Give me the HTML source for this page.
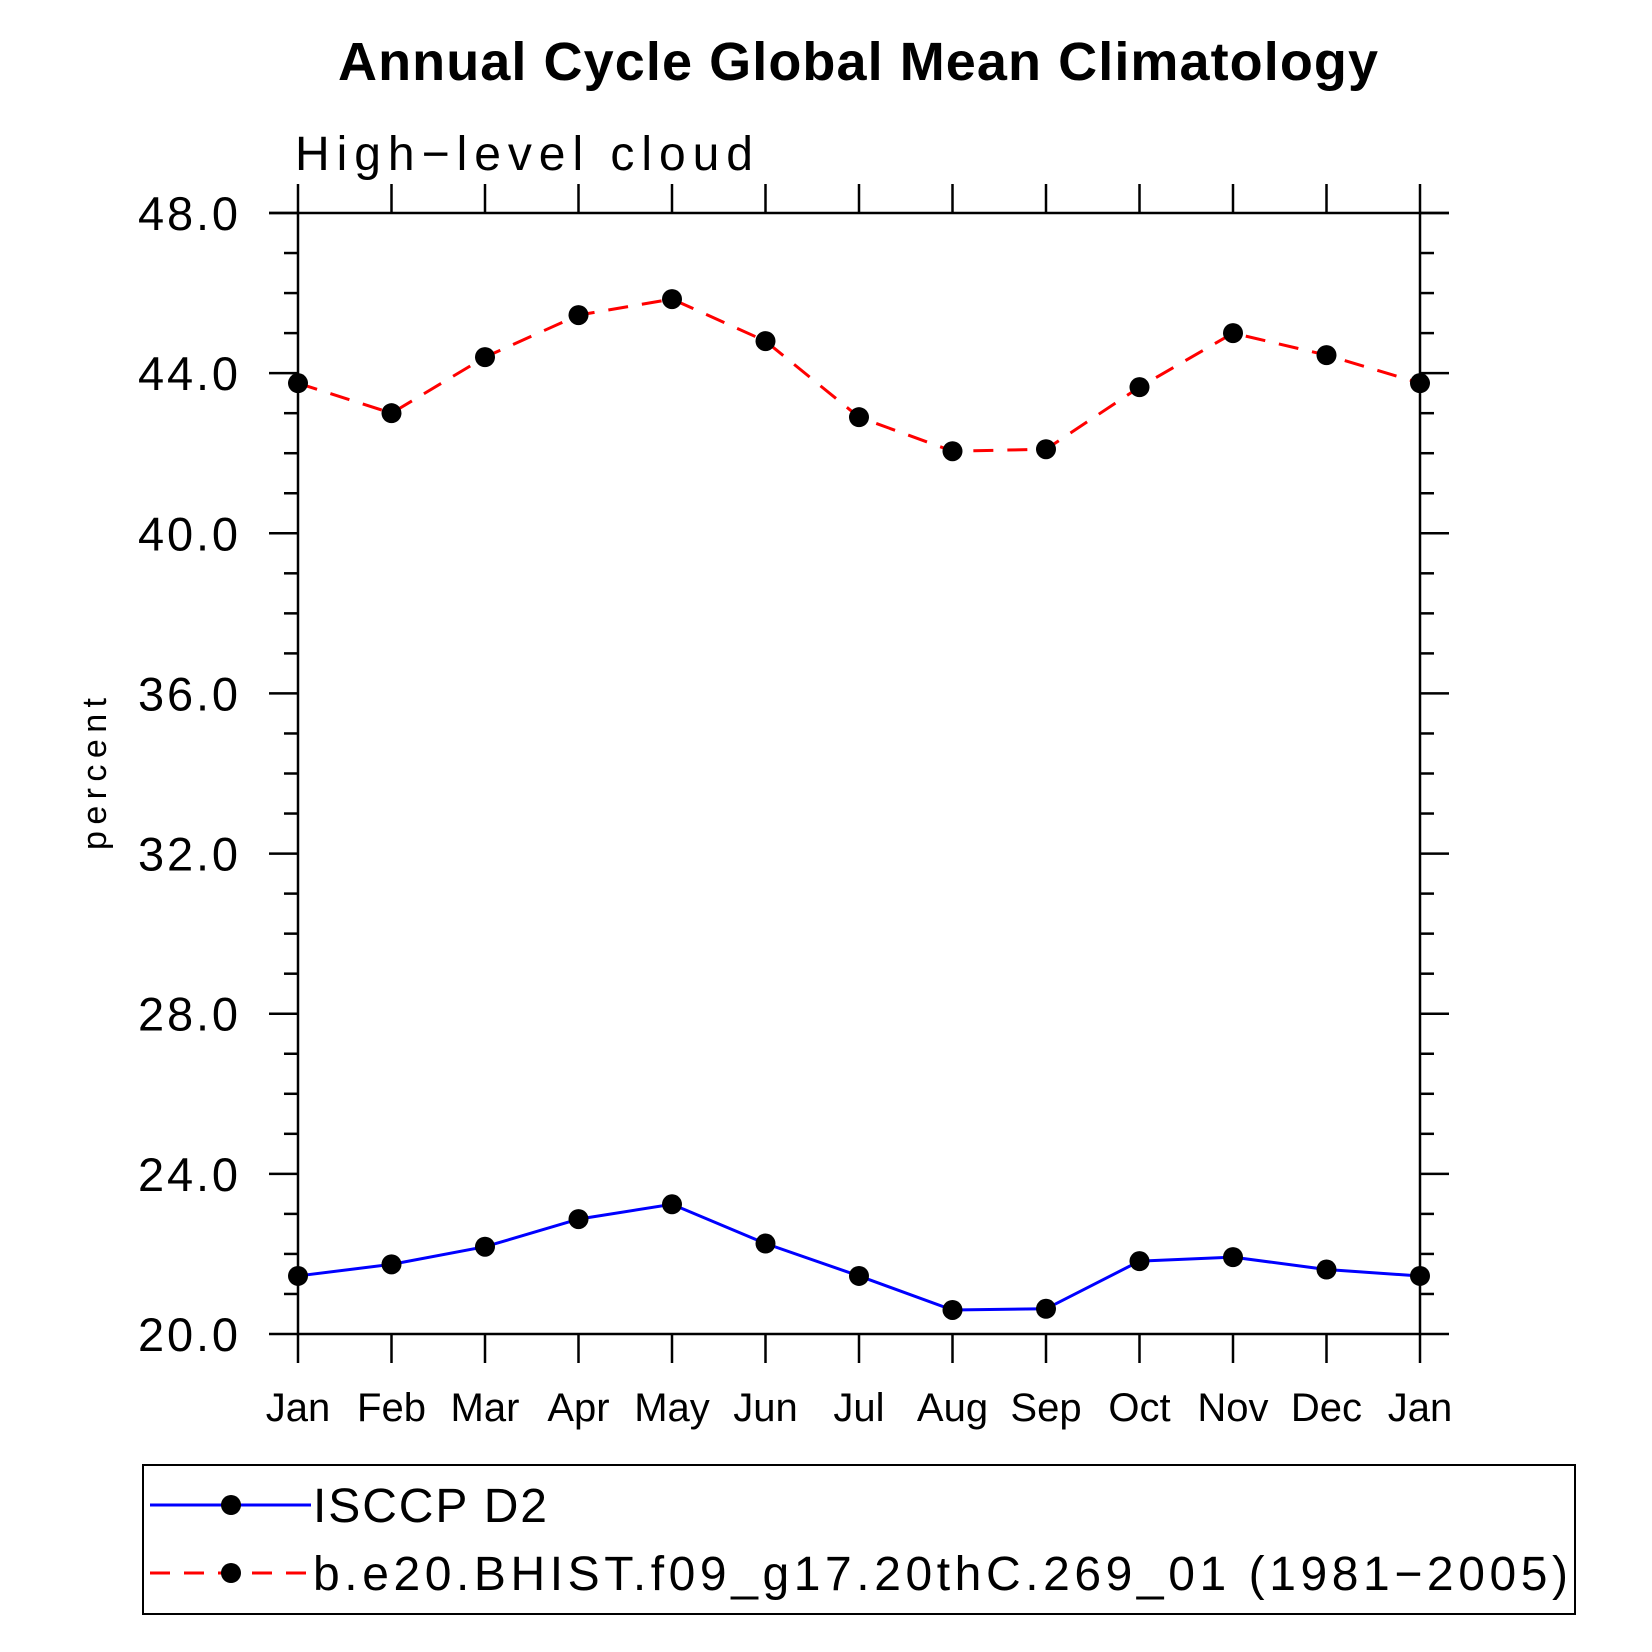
<!DOCTYPE html>
<html><head><meta charset="utf-8"><style>body{margin:0;background:#fff}svg{display:block}text{font-family:"Liberation Sans",sans-serif}</style></head>
<body>
<svg id="chart" width="1652" height="1652" viewBox="0 0 1652 1652" xmlns="http://www.w3.org/2000/svg">
<text x="858" y="80" font-size="54" font-weight="bold" text-anchor="middle" textLength="1040">Annual Cycle Global Mean Climatology</text>
<text x="295" y="170" font-size="48" textLength="458">High−level cloud</text>
<text transform="translate(106,774) rotate(-90)" font-size="34" text-anchor="middle" textLength="152">percent</text>
<g id="axes"></g>
<g id="series"></g>
<rect x="143" y="1465" width="1432" height="149" fill="none" stroke="#000" stroke-width="2"/>
<g>
<line x1="150" y1="1505" x2="311" y2="1505" stroke="#0000ff" stroke-width="3"/>
<circle cx="231" cy="1505" r="10"/>
<text x="313" y="1522" font-size="48" textLength="234">ISCCP D2</text>
</g>
<g>
<line x1="150" y1="1573" x2="311" y2="1573" stroke="#ff0000" stroke-width="3" stroke-dasharray="20,14"/>
<circle cx="231" cy="1573" r="10"/>
<text x="313" y="1590" font-size="48" textLength="1255">b.e20.BHIST.f09_g17.20thC.269_01 (1981−2005)</text>
</g>
</svg>
<script>
const months = ["Jan","Feb","Mar","Apr","May","Jun","Jul","Aug","Sep","Oct","Nov","Dec","Jan"];
const isccp = [21.45,21.74,22.18,22.87,23.24,22.26,21.45,20.6,20.63,21.82,21.92,21.61,21.45];
const model = [43.75,43.0,44.4,45.45,45.85,44.8,42.9,42.05,42.1,43.65,45.0,44.45,43.75];
const yTicks = [20,24,28,32,36,40,44,48];
const yTickLabels = ["20.0","24.0","28.0","32.0","36.0","40.0","44.0","48.0"];

const NS="http://www.w3.org/2000/svg";
const L=298,R=1420,T=213,B=1334,ymin=20,ymax=48;
const xs=i=>L+(R-L)*i/(months.length-1);
const ys=v=>B-(v-ymin)/(ymax-ymin)*(B-T);
const axes=document.getElementById('axes'), ser=document.getElementById('series');
function mk(tag,attrs,parent){const e=document.createElementNS(NS,tag);for(const k in attrs)e.setAttribute(k,attrs[k]);parent.appendChild(e);return e;}
function ln(x1,y1,x2,y2,w,p){return mk('line',{x1,y1,x2,y2,stroke:'#000','stroke-width':w},p);}
const frame=mk('rect',{x:L,y:T,width:R-L,height:B-T,fill:'none',stroke:'#000','stroke-width':2.5},axes);


ln(L-29,T,L,T,2.5,axes);ln(R,T,R+29,T,2.5,axes);
for(let v=ymin;v<=ymax+1e-9;v+=1){
  const y=ys(v), major=(v%4===0), len=major?29:14;
  ln(L-len,y,L,y,2.5,axes); ln(R,y,R+len,y,2.5,axes);
}
yTicks.forEach((v,i)=>{
  const t=mk('text',{x:238,y:ys(v)+17,'font-size':47,'text-anchor':'end',textLength:100},axes);
  t.textContent=yTickLabels[i];
  
  
});
months.forEach((m,i)=>{
  const x=xs(i);
  ln(x,B,x,B+29,2.5,axes); ln(x,T-29,x,T,2.5,axes);
  const t=mk('text',{x:x,y:1421,'font-size':40,'text-anchor':'middle'},axes);
  t.textContent=m;
  
  
});
function draw(data,color,dash,name){
  const pts=data.map((v,i)=>xs(i)+','+ys(v)).join(' ');
  const pl=mk('polyline',{points:pts,fill:'none',stroke:color,'stroke-width':3},ser);
  if(dash)pl.setAttribute('stroke-dasharray',dash);
  
  
  data.forEach((v,i)=>{
    const c=mk('circle',{cx:xs(i),cy:ys(v),r:10,fill:'#000'},ser);
    
    
  });
}
draw(model,'#ff0000','20,14','model-series');
draw(isccp,'#0000ff',null,'isccp-series');
</script>
</body></html>
